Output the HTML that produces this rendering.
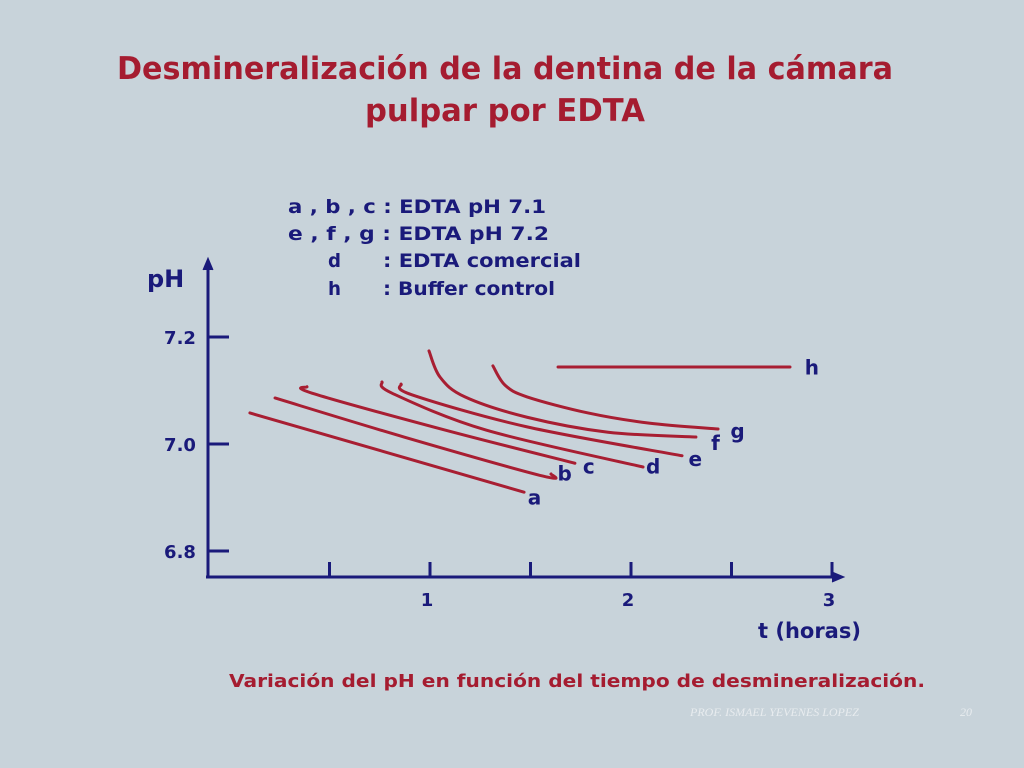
<!DOCTYPE html>
<html><head><meta charset="utf-8"><style>
html,body{margin:0;padding:0;background:#c8d3da;}
svg{display:block;}
</style></head><body>
<svg id="chart" width="1024" height="768" viewBox="0 0 1024 768" xmlns="http://www.w3.org/2000/svg" font-family="'DejaVu Sans','Liberation Sans',sans-serif" font-weight="bold">
<rect width="1024" height="768" fill="#c8d3da"/>
<g fill="#a51c30" font-size="31" text-anchor="middle">
<text x="505" y="79" textLength="776" lengthAdjust="spacingAndGlyphs">Desmineralización de la dentina de la cámara</text>
<text x="505" y="121" textLength="280" lengthAdjust="spacingAndGlyphs">pulpar por EDTA</text>
</g>
<g fill="#1a1a7a" font-size="19">
<text x="288" y="213" textLength="258" lengthAdjust="spacingAndGlyphs">a  , b , c : EDTA  pH 7.1</text>
<text x="288" y="240" textLength="261" lengthAdjust="spacingAndGlyphs">e  , f  , g : EDTA  pH 7.2</text>
<text x="328" y="267" textLength="13" lengthAdjust="spacingAndGlyphs">d</text>
<text x="383" y="267" textLength="198" lengthAdjust="spacingAndGlyphs">: EDTA  comercial</text>
<text x="328" y="295" textLength="13" lengthAdjust="spacingAndGlyphs">h</text>
<text x="383" y="295" textLength="172" lengthAdjust="spacingAndGlyphs">: Buffer control</text>
</g>
<text x="147" y="287" fill="#1a1a7a" font-size="24">pH</text>
<text x="758" y="638" fill="#1a1a7a" font-size="21">t (horas)</text>
<g id="axes" stroke="#1a1a7a" stroke-width="3" fill="none"></g>
<g id="ticklabels" fill="#1a1a7a" font-size="18"></g>
<g id="curves" fill="none" stroke="#a81e32" stroke-width="3" stroke-linecap="round"></g>
<g id="labels" fill="#1a1a7a" font-size="20" text-anchor="middle"></g>
<text x="577" y="687" fill="#a51c30" font-size="18" text-anchor="middle" textLength="696" lengthAdjust="spacingAndGlyphs">Variación del pH en función del tiempo de desmineralización.</text>
<text x="690" y="716" fill="#e8ecef" font-size="12" font-style="italic" font-weight="normal" font-family="'Liberation Serif',serif">PROF. ISMAEL YEVENES LOPEZ</text>
<text x="960" y="716" fill="#e8ecef" font-size="12" font-style="italic" font-weight="normal" font-family="'Liberation Serif',serif">20</text>
</svg>
<script>
const yTicks = [6.8, 7.0, 7.2];
const yTickLabels = ["6.8", "7.0", "7.2"];
const xTicks = [0.5, 1, 1.5, 2, 2.5, 3];
const xTickLabels = ["", "1", "", "2", "", "3"];
const seriesNames = ["a","b","c","d","e","f","g","h"];
const aT = [0.104, 1.468];            const aPH = [7.058, 6.910];
const bT = [0.229, 0.871, 1.562, 1.602]; const bPH = [7.086, 7.013, 6.940, 6.944];
const cT = [0.388, 0.413, 1.075, 1.721]; const cPH = [7.107, 7.095, 7.026, 6.964];
const dT = [0.761, 0.811, 1.279, 2.060]; const dPH = [7.116, 7.095, 7.026, 6.957];
const eT = [0.856, 0.910, 1.483, 2.254]; const ePH = [7.112, 7.092, 7.032, 6.978];
const fT = [0.995, 1.050, 1.174, 1.483, 1.886, 2.323]; const fPH = [7.174, 7.125, 7.088, 7.050, 7.022, 7.013];
const gT = [1.313, 1.373, 1.483, 1.786, 2.090, 2.433]; const gPH = [7.146, 7.110, 7.088, 7.058, 7.039, 7.028];
const hT = [1.637, 2.791];            const hPH = [7.144, 7.144];
const labelT = [1.52, 1.67, 1.79, 2.11, 2.32, 2.42, 2.53, 2.90];
const labelPH = [6.900, 6.945, 6.958, 6.958, 6.972, 7.002, 7.024, 7.143];

const NS = "http://www.w3.org/2000/svg";
function xs(t){ return 229 + t*201; }
function ys(p){ return 444 - (p-7.0)*535; }
function mk(tag, attrs, parent){ const e=document.createElementNS(NS,tag); for(const k in attrs) e.setAttribute(k,attrs[k]); parent.appendChild(e); return e; }

const axes=document.getElementById('axes');
let yAxis = mk('path',{d:'M208,577 L208,262'},axes);


let yArrow = mk('path',{d:'M203,270 L208,258 L213,270',fill:'#1a1a7a','stroke-width':'1'},axes);


let xAxis = mk('path',{d:'M206,577 L836,577'},axes);


let xArrow = mk('path',{d:'M832,572 L844,577 L832,582',fill:'#1a1a7a','stroke-width':'1'},axes);



const tl=document.getElementById('ticklabels');
yTicks.forEach((v,i)=>{
  const y=ys(v);
  let t=mk('path',{d:`M208,${y} L229,${y}`},axes);
  
  
  let l=mk('text',{x:180,y:y+7,'text-anchor':'middle'},tl);
  l.textContent=yTickLabels[i];
  
  
});
xTicks.forEach((v,i)=>{
  const x=xs(v);
  let t=mk('path',{d:`M${x},577 L${x},562`},axes);
  
  
  if(xTickLabels[i]){
    let l=mk('text',{x:x-3,y:606,'text-anchor':'middle'},tl);
    l.textContent=xTickLabels[i];
    
    
  }
});

function smooth(T,P){
  const pts=T.map((t,i)=>[xs(t),ys(P[i])]);
  let d=`M${pts[0][0]},${pts[0][1]}`;
  for(let i=0;i<pts.length-1;i++){
    const p0=pts[i-1]||pts[i], p1=pts[i], p2=pts[i+1], p3=pts[i+2]||p2;
    const c1=[p1[0]+(p2[0]-p0[0])/6, p1[1]+(p2[1]-p0[1])/6];
    const c2=[p2[0]-(p3[0]-p1[0])/6, p2[1]-(p3[1]-p1[1])/6];
    d+=` C${c1[0]},${c1[1]} ${c2[0]},${c2[1]} ${p2[0]},${p2[1]}`;
  }
  return d;
}
const curves=document.getElementById('curves');
const allT=[aT,bT,cT,dT,eT,fT,gT,hT], allP=[aPH,bPH,cPH,dPH,ePH,fPH,gPH,hPH];
allT.forEach((T,i)=>{
  const p=mk('path',{d:smooth(T,allP[i])},curves);
  
  
});
const labels=document.getElementById('labels');
seriesNames.forEach((n,i)=>{
  const l=mk('text',{x:xs(labelT[i]),y:ys(labelPH[i])+7},labels);
  l.textContent=n;
  
  
});
</script>
</body></html>
